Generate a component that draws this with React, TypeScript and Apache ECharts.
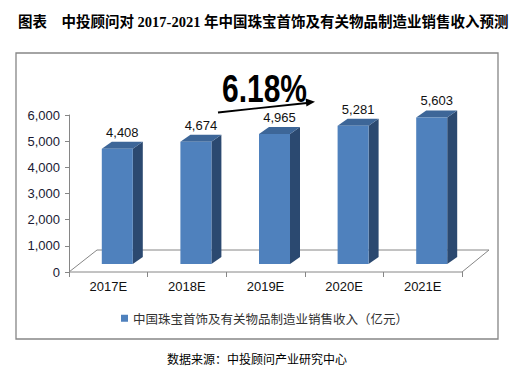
import React, { useEffect, useRef } from "react";
import * as echarts from "echarts";

const categories = ["2017E", "2018E", "2019E", "2020E", "2021E"];
const revenue = [4408, 4674, 4965, 5281, 5603];
const seriesName = "中国珠宝首饰及有关物品制造业销售收入（亿元）";
const yTicks = { min: 0, max: 6000, interval: 1000 };
const titleText = "图表　中投顾问对 2017-2021 年中国珠宝首饰及有关物品制造业销售收入预测";
const growthText = "6.18%";
const sourceText = "数据来源：中投顾问产业研究中心";

const fmt = (v: number) => v.toLocaleString("en-US");

export default function App() {
  const ref = useRef<HTMLDivElement>(null);
  useEffect(() => {
    const chart = echarts.init(ref.current!, null, { renderer: "svg" });
    const GL = 69, GR = 55, GT = 115, GB = 108;
    const W = 517, H = 380;
    const floorDX = 27, floorDY = -22;
    const barW = 31, depthX = 10, depthY = -7, barOX = 9, barOY = -8;
    const front = "#4F81BD", side = "#2B4970", top = "#3D6698";
    const fx0 = GL, fx1 = W - GR, fy = H - GB;

    chart.setOption({
      animation: false,
      backgroundColor: "#fff",
      grid: { left: GL, right: GR, top: GT, bottom: GB },
      xAxis: {
        type: "category",
        data: categories,
        axisLine: { show: false },
        axisTick: { show: true, interval: 0, length: 5, lineStyle: { color: "#868686" } },
        axisLabel: { margin: 8, fontSize: 13, color: "#111", fontFamily: "Liberation Sans, Arial" },
      },
      yAxis: {
        type: "value",
        min: yTicks.min,
        max: yTicks.max,
        interval: yTicks.interval,
        splitLine: { show: false },
        axisLine: { show: true, lineStyle: { color: "#868686" } },
        axisTick: { show: true, length: 4, lineStyle: { color: "#868686" } },
        axisLabel: {
          margin: 9,
          fontSize: 13,
          color: "#1a1a33",
          fontFamily: "Liberation Sans, Arial",
          formatter: (v: number) => fmt(v),
        },
      },
      legend: {
        data: [{ name: seriesName, icon: "rect" }],
        left: 121,
        top: 312,
        padding: 0,
        itemWidth: 7,
        itemHeight: 7,
        itemGap: 4,
        textStyle: { fontSize: 12.5, color: "#333", fontFamily: "Noto Sans CJK SC" },
      },
      graphic: [
        {
          type: "rect",
          shape: { x: 16, y: 53, width: 482, height: 286 },
          style: { fill: "none", stroke: "#868686", lineWidth: 1.3 },
          z: -1,
        },
        {
          type: "polyline",
          shape: {
            points: [
              [fx0, fy],
              [fx1, fy],
              [fx1 + floorDX, fy + floorDY],
              [fx0 + floorDX + 1, fy + floorDY],
              [fx0, fy],
            ],
          },
          style: { stroke: "#868686", lineWidth: 1, fill: "none" },
          z: 0,
        },
        {
          type: "text",
          x: 18,
          y: 22,
          style: {
            text: titleText,
            fontSize: 14.5,
            fontWeight: "bold",
            fontFamily: "Liberation Serif, Noto Sans CJK SC",
            fill: "#000",
            verticalAlign: "middle",
          },
        },
        {
          type: "text",
          x: 222,
          y: 89,
          scaleY: 1.3,
          style: {
            text: growthText,
            fontSize: 30,
            fontWeight: "bold",
            fontFamily: "Liberation Sans, Arial",
            fill: "#000",
            verticalAlign: "middle",
          },
          z: 10,
        },
        {
          type: "line",
          shape: { x1: 218, y1: 112.5, x2: 307, y2: 103 },
          style: { stroke: "#000", lineWidth: 1.8 },
          z: 10,
        },
        {
          type: "polygon",
          shape: { points: [[315, 101.8], [306.4, 106.4], [305.6, 98.6]] },
          style: { fill: "#000" },
          z: 10,
        },
        {
          type: "text",
          x: 167,
          y: 358,
          style: {
            text: sourceText,
            fontSize: 12,
            fontFamily: "Noto Sans CJK SC",
            fill: "#000",
            verticalAlign: "middle",
          },
        },
      ],
      series: [
        {
          type: "custom",
          name: seriesName,
          itemStyle: { color: front },
          data: revenue.map((v, i) => [i, v]),
          renderItem: (params: any, api: any) => {
            const i = api.value(0);
            const v = api.value(1);
            const pTop = api.coord([i, v]);
            const pBase = api.coord([i, 0]);
            const cx = pTop[0] + barOX;
            const yT = pTop[1] + barOY;
            const yB = pBase[1] + barOY;
            const L = cx - barW / 2, R = cx + barW / 2;
            return {
              type: "group",
              children: [
                {
                  type: "polygon",
                  shape: { points: [[R, yT], [R + depthX, yT + depthY], [R + depthX, yB + depthY], [R, yB]] },
                  style: { fill: side },
                },
                {
                  type: "polygon",
                  shape: { points: [[L, yT], [L + depthX, yT + depthY], [R + depthX, yT + depthY], [R, yT]] },
                  style: { fill: top },
                },
                {
                  type: "rect",
                  shape: { x: L, y: yT, width: barW, height: yB - yT },
                  style: { fill: front },
                },
                {
                  type: "text",
                  x: cx + depthX / 2,
                  y: yT + depthY - 3,
                  style: {
                    text: fmt(v),
                    fontSize: 13,
                    fontFamily: "Liberation Sans, Arial",
                    fill: "#111",
                    align: "center",
                    verticalAlign: "bottom",
                  },
                },
              ],
            };
          },
        },
      ],
    });
    return () => chart.dispose();
  }, []);
  return <div ref={ref} style={{ position: "fixed", left: 0, top: 0, width: 517, height: 380 }} />;
}
